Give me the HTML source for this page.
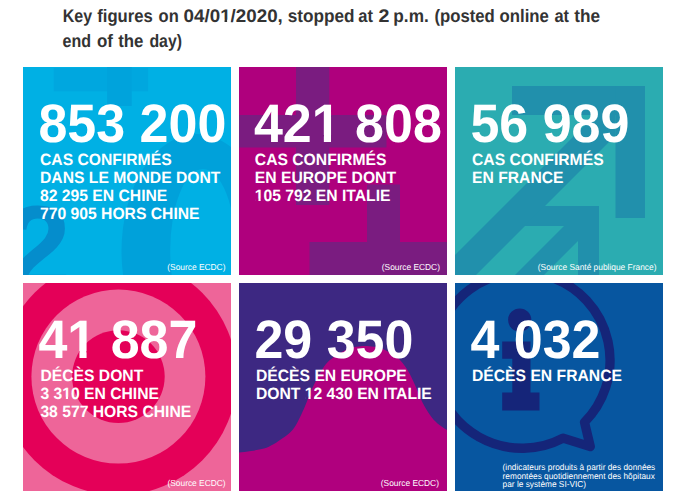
<!DOCTYPE html>
<html lang="en"><head><meta charset="utf-8"><title>Key figures</title>
<style>
html,body{margin:0;padding:0;background:#fff;}
body{width:688px;height:504px;position:relative;overflow:hidden;font-family:"Liberation Sans",sans-serif;}
.t,#tx{position:absolute;display:block;}
#tx{left:0;top:0;}
text{font-family:"Liberation Sans",sans-serif;fill:#fff;white-space:pre;text-rendering:geometricPrecision;}
.n{font-weight:bold;font-size:52px;}
.l{font-weight:bold;font-size:15.7px;}
.s{font-size:8.4px;}
.f{font-size:8.3px;}
.w{fill:#333;font-weight:bold;font-size:17.4px;}
</style></head><body>
<svg class="t" style="left:23px;top:67px" width="208" height="208" viewBox="0 0 208 208"><rect width="208" height="208" fill="#00b0e4"/><rect x="30.8" y="1" width="94.3" height="23.3" fill="#00a7df"/><rect x="84.1" y="0" width="24.6" height="39" fill="#00a3dc"/><path fill-rule="evenodd" fill="#00a1da" d="M98.5,184 a75,117 0 1,0 150,0 a75,117 0 1,0 -150,0 Z M147.2,184 a32.8,82 0 1,0 65.6,0 a32.8,82 0 1,0 -65.6,0 Z"/><text x="-17.7" y="220.5" font-family="Liberation Sans" font-weight="bold" font-size="118" style="fill:#058dcc" aria-hidden="true">2</text></svg>
<svg class="t" style="left:239px;top:67px" width="208" height="208" viewBox="0 0 208 208"><rect width="208" height="208" fill="#af007d"/><rect x="57" y="0" width="33.3" height="138" fill="#7a1c80"/><rect x="0" y="48" width="147.5" height="32.5" fill="#7a1c80"/><rect x="128" y="117.5" width="33" height="91" fill="#7a1c80"/><rect x="70.5" y="175" width="138" height="33" fill="#7a1c80"/></svg>
<svg class="t" style="left:455px;top:67px" width="208" height="208" viewBox="0 0 208 208"><rect width="208" height="208" fill="#2bacb1"/><defs><clipPath id="c3a"><rect x="0" y="48" width="160.5" height="170"/></clipPath><clipPath id="c3b"><rect x="0" y="159" width="123" height="60"/></clipPath></defs><rect x="57" y="19" width="133" height="29" fill="#2190ac"/><rect x="160.5" y="19" width="29.5" height="132" fill="#2190ac"/><path d="M238,-50 L279,-50 L-71,300 L-112,300 Z" fill="#2190ac" clip-path="url(#c3a)"/><path d="M89,139 L144,139 L144,209 L123,209 L123,159 L69,159 Z" fill="#2190ac"/><path d="M318,-50 L347,-50 L-3,300 L-32,300 Z" fill="#2190ac" clip-path="url(#c3b)"/></svg>
<svg class="t" style="left:23px;top:283px" width="208" height="208" viewBox="0 0 208 208"><rect width="208" height="208" fill="#ee6599"/><circle cx="95.4" cy="93.6" r="118.5" fill="#e40058"/><circle cx="95.4" cy="93.6" r="87" fill="#ee6599"/><circle cx="95.4" cy="93.6" r="46.3" fill="#e40058"/></svg>
<svg class="t" style="left:239px;top:283px" width="208" height="208" viewBox="0 0 208 208"><rect width="208" height="208" fill="#3d2882"/><path d="M-6,170.4 C-5.00,170.27 -3.00,170.02 0,169.6 C3.00,169.18 7.83,168.57 12,167.9 C16.17,167.23 21.33,166.65 25,165.6 C28.67,164.55 31.33,163.03 34,161.6 C36.67,160.17 38.33,158.85 41,157 C43.67,155.15 47.33,153.00 50,150.5 C52.67,148.00 54.42,146.33 57,142 C59.58,137.67 62.92,130.33 65.5,124.5 C68.08,118.67 70.17,112.25 72.5,107 C74.83,101.75 77.08,97.33 79.5,93 C81.92,88.67 84.42,84.17 87,81 C89.58,77.83 91.42,76.50 95,74 C98.58,71.50 104.33,67.75 108.5,66 C112.67,64.25 116.42,63.97 120,63.5 C123.58,63.03 126.67,63.03 130,63.2 C133.33,63.37 137.33,63.87 140,64.5 C142.67,65.13 142.92,65.33 146,67 C149.08,68.67 154.75,71.17 158.5,74.5 C162.25,77.83 165.58,82.42 168.5,87 C171.42,91.58 173.50,96.58 176,102 C178.50,107.42 181.00,114.50 183.5,119.5 C186.00,124.50 188.50,128.50 191,132 C193.50,135.50 195.67,138.00 198.5,140.5 C201.33,143.00 205.42,145.42 208,147 C210.58,148.58 213.00,149.50 214,150 L214,215 L-6,215 Z" fill="#b0007e"/></svg>
<svg class="t" style="left:455px;top:283px" width="208" height="208" viewBox="0 0 208 208"><rect width="208" height="208" fill="#0756a0"/><path d="M129.5,139.25 A88,88 0 1,0 108.1,155.1 L135.3,163.6 Z" fill="none" stroke="#152579" stroke-width="9.3" stroke-linejoin="round"/><circle cx="64.7" cy="37" r="11.6" fill="#152579"/><path d="M47.2,58.6 H75.5 V109.4 H84.5 V127.6 H47.2 V109.4 H57.3 V75.7 H47.2 Z" fill="#152579"/></svg>

<svg id="tx" width="688" height="504" viewBox="0 0 688 504">
<defs><clipPath id="kt29"><path clip-rule="evenodd" d="M-50,-80 H900 V40 H-50 Z M220.68,-2.26 H224.53 V0.60 H220.68 Z M227.10,-2.26 H230.72 V0.60 H227.10 Z"/></clipPath><clipPath id="k6"><path clip-rule="evenodd" d="M-50,-80 H900 V40 H-50 Z M59.54,-6.55 H69.96 V1.56 H59.54 Z M77.10,-6.55 H86.86 V1.56 H77.10 Z"/></clipPath><clipPath id="k9"><path clip-rule="evenodd" d="M-50,-80 H900 V40 H-50 Z M0.39,-2.08 H3.66 V0.60 H0.39 Z M5.82,-2.08 H8.89 V0.60 H5.82 Z"/></clipPath><clipPath id="k15"><path clip-rule="evenodd" d="M-50,-80 H900 V40 H-50 Z M30.62,-6.55 H41.04 V1.56 H30.62 Z M48.18,-6.55 H57.94 V1.56 H48.18 Z"/></clipPath><clipPath id="k17"><path clip-rule="evenodd" d="M-50,-80 H900 V40 H-50 Z M22.19,-2.08 H25.46 V0.60 H22.19 Z M27.62,-2.08 H30.69 V0.60 H27.62 Z"/></clipPath><clipPath id="k22"><path clip-rule="evenodd" d="M-50,-80 H900 V40 H-50 Z M49.19,-2.08 H52.46 V0.60 H49.19 Z M54.62,-2.08 H57.69 V0.60 H54.62 Z"/></clipPath></defs>
<g id="h29" transform="translate(0,22.00) scale(1,1.041)"><g clip-path="url(#kt29)"><text class="w"><tspan x="62.75" textLength="29.40" lengthAdjust="spacingAndGlyphs">Key</tspan> <tspan x="97.26" textLength="55.54" lengthAdjust="spacingAndGlyphs">figures</tspan> <tspan x="158.59" textLength="20.16" lengthAdjust="spacingAndGlyphs">on</tspan> <tspan x="183.59" textLength="99.22" lengthAdjust="spacingAndGlyphs">04/01/2020,</tspan> <tspan x="287.76" textLength="66.77" lengthAdjust="spacingAndGlyphs">stopped</tspan> <tspan x="358.23" textLength="14.68" lengthAdjust="spacingAndGlyphs">at</tspan> <tspan x="378.54" textLength="10.92" lengthAdjust="spacingAndGlyphs">2</tspan> <tspan x="393.36" textLength="35.37" lengthAdjust="spacingAndGlyphs">p.m.</tspan> <tspan x="434.44" textLength="60.26" lengthAdjust="spacingAndGlyphs">(posted</tspan> <tspan x="499.58" textLength="49.37" lengthAdjust="spacingAndGlyphs">online</tspan> <tspan x="554.43" textLength="14.58" lengthAdjust="spacingAndGlyphs">at</tspan> <tspan x="574.15" textLength="25.84" lengthAdjust="spacingAndGlyphs">the</tspan></text></g></g>
<g id="h41" transform="translate(0,46.60) scale(1,1.041)"><text class="w"><tspan x="62.51" textLength="28.47" lengthAdjust="spacingAndGlyphs">end</tspan> <tspan x="96.97" textLength="15.95" lengthAdjust="spacingAndGlyphs">of</tspan> <tspan x="118.26" textLength="25.22" lengthAdjust="spacingAndGlyphs">the</tspan> <tspan x="149.42" textLength="32.61" lengthAdjust="spacingAndGlyphs">day)</tspan></text></g>
<g id="r0" transform="translate(38.40,141.70) scale(1,1.041)"><text class="n">853 200</text></g>
<g id="r1" transform="translate(40.00,164.90) scale(1,1.041)"><text class="l">CAS CONFIRMÉS</text></g>
<g id="r2" transform="translate(40.00,182.95) scale(1,1.041)"><text class="l">DANS LE MONDE DONT</text></g>
<g id="r3" transform="translate(40.00,201.00) scale(1,1.041)"><text class="l">82 295 EN CHINE</text></g>
<g id="r4" transform="translate(40.00,219.05) scale(1,1.041)"><text class="l">770 905 HORS CHINE</text></g>
<g id="r5" transform="translate(167.25,269.80) scale(1,1.041)"><text class="s">(Source ECDC)</text></g>
<g id="r6" transform="translate(253.90,141.70) scale(1,1.041)"><g clip-path="url(#k6)"><text class="n">421 808</text></g></g>
<g id="r7" transform="translate(254.80,164.90) scale(1,1.041)"><text class="l">CAS CONFIRMÉS</text></g>
<g id="r8" transform="translate(254.80,182.95) scale(1,1.041)"><text class="l">EN EUROPE DONT</text></g>
<g id="r9" transform="translate(254.80,201.00) scale(1,1.041)"><g clip-path="url(#k9)"><text class="l">105 792 EN ITALIE</text></g></g>
<g id="r10" transform="translate(381.75,269.80) scale(1,1.041)"><text class="s">(Source ECDC)</text></g>
<g id="r11" transform="translate(470.40,141.70) scale(1,1.041)"><text class="n">56 989</text></g>
<g id="r12" transform="translate(472.00,164.90) scale(1,1.041)"><text class="l">CAS CONFIRMÉS</text></g>
<g id="r13" transform="translate(472.00,182.95) scale(1,1.041)"><text class="l">EN FRANCE</text></g>
<g id="r14" transform="translate(537.75,269.80) scale(1,1.041)"><text class="s">(Source Santé publique France)</text></g>
<g id="r15" transform="translate(38.40,357.70) scale(1,1.041)"><g clip-path="url(#k15)"><text class="n">41 887</text></g></g>
<g id="r16" transform="translate(40.40,380.90) scale(1,1.041)"><text class="l">DÉCÈS DONT</text></g>
<g id="r17" transform="translate(40.40,398.95) scale(1,1.041)"><g clip-path="url(#k17)"><text class="l">3 310 EN CHINE</text></g></g>
<g id="r18" transform="translate(40.40,417.00) scale(1,1.041)"><text class="l">38 577 HORS CHINE</text></g>
<g id="r19" transform="translate(167.45,485.80) scale(1,1.041)"><text class="s">(Source ECDC)</text></g>
<g id="r20" transform="translate(254.40,357.70) scale(1,1.041)"><text class="n">29 350</text></g>
<g id="r21" transform="translate(256.00,380.90) scale(1,1.041)"><text class="l">DÉCÈS EN EUROPE</text></g>
<g id="r22" transform="translate(256.00,398.95) scale(1,1.041)"><g clip-path="url(#k22)"><text class="l">DONT 12 430 EN ITALIE</text></g></g>
<g id="r23" transform="translate(380.75,485.80) scale(1,1.041)"><text class="s">(Source ECDC)</text></g>
<g id="r24" transform="translate(470.40,357.70) scale(1,1.041)"><text class="n">4 032</text></g>
<g id="r25" transform="translate(472.00,380.90) scale(1,1.041)"><text class="l">DÉCÈS EN FRANCE</text></g>
<g id="r26" transform="translate(502.60,469.75) scale(1,1.041)"><text class="f">(indicateurs produits à partir des données</text></g>
<g id="r27" transform="translate(502.60,478.50) scale(1,1.041)"><text class="f">remontées quotidiennement des hôpitaux</text></g>
<g id="r28" transform="translate(502.60,487.25) scale(1,1.041)"><text class="f">par le système SI-VIC)</text></g>
</svg>
</body></html>
